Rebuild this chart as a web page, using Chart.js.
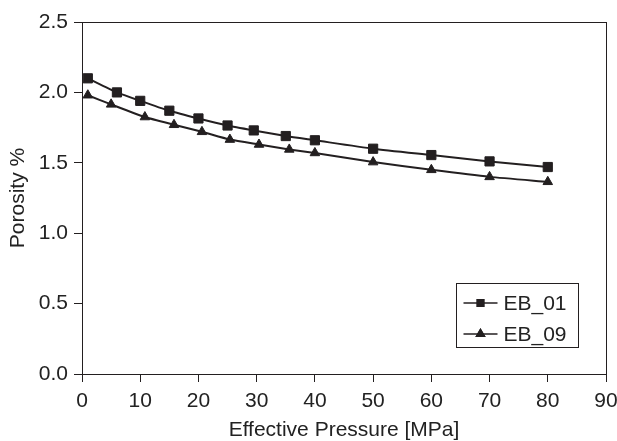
<!DOCTYPE html>
<html>
<head>
<meta charset="utf-8">
<script src="https://cdn.jsdelivr.net/npm/chart.js@4.4.1/dist/chart.umd.min.js"></script>
<style>
  html, body { margin: 0; padding: 0; background: #ffffff; }
  #wrap { width: 617px; height: 441px; }
</style>
</head>
<body>
<div id="wrap"><canvas id="chart" width="617" height="441"></canvas></div>
<script>
// values
const seriesNames = ['EB_01', 'EB_09'];
const pressureEB01 = [1, 6, 10, 15, 20, 25, 29.5, 35, 40, 50, 60, 70, 80];
const porosityEB01 = [2.10, 2.00, 1.94, 1.87, 1.815, 1.765, 1.73, 1.69, 1.66, 1.60, 1.555, 1.51, 1.47];
const pressureEB09 = [1, 5, 10.8, 15.8, 20.6, 25.4, 30.4, 35.6, 40, 50, 60, 70, 80];
const porosityEB09 = [1.98, 1.915, 1.825, 1.77, 1.72, 1.665, 1.63, 1.595, 1.57, 1.505, 1.45, 1.40, 1.365];

const ink = '#231f20';
const textInk = '#222222';
const fontFamily = '"Liberation Sans", Arial, Helvetica, sans-serif';

function toPoints(xs, ys)
{
	return xs.map((x, i) => ({ x: x, y: ys[i] }));
}

// box round the plot area
const frame = {
	id: 'frame',
	afterDatasetsDraw(chart)
	{
		const { ctx, chartArea } = chart;
		ctx.save();
		ctx.strokeStyle = ink;
		ctx.lineWidth = 1;
		ctx.strokeRect(Math.round(chartArea.left) + 0.5, Math.round(chartArea.top) + 0.5,
			Math.round(chartArea.right - chartArea.left), Math.round(chartArea.bottom - chartArea.top));
		ctx.restore();
	}
};

// boxed legend in the lower right, line + marker like the plot
const boxLegend = {
	id: 'boxLegend',
	afterDraw(chart)
	{
		const { ctx, chartArea } = chart;
		const w = 122, h = 64;
		const x0 = Math.round(chartArea.right - 28 - w) + 0.5;
		const y0 = Math.round(chartArea.bottom - 27 - h) + 0.5;
		ctx.save();
		ctx.fillStyle = '#ffffff';
		ctx.fillRect(x0, y0, w, h);
		ctx.strokeStyle = ink;
		ctx.lineWidth = 1;
		ctx.strokeRect(x0, y0, w, h);
		chart.data.datasets.forEach((ds, i) => {
			const cy = y0 + 19.5 + i * 31;
			ctx.strokeStyle = ink;
			ctx.lineWidth = 1.5;
			ctx.beginPath();
			ctx.moveTo(x0 + 7, cy);
			ctx.lineTo(x0 + 41, cy);
			ctx.stroke();
			ctx.fillStyle = ink;
			Chart.helpers.drawPoint(ctx, { pointStyle: ds.pointStyle, radius: 4.5, borderWidth: 1, rotation: 0 }, x0 + 24, cy);
			ctx.fill();
			ctx.stroke();
			ctx.fillStyle = textInk;
			ctx.font = '21px ' + fontFamily;
			ctx.textBaseline = 'middle';
			ctx.textAlign = 'left';
			ctx.fillText(ds.label, x0 + 47, cy + 1);
		});
		ctx.restore();
	}
};

const ctx = document.getElementById('chart').getContext('2d');
Chart.defaults.font.family = fontFamily;
Chart.defaults.color = textInk;

new Chart(ctx, {
	type: 'line',
	data: {
		datasets: [
			{
				label: seriesNames[0],
				data: toPoints(pressureEB01, porosityEB01),
				borderColor: ink,
				backgroundColor: ink,
				borderWidth: 2,
				pointStyle: 'rect',
				pointRadius: 6.5,
				pointBorderWidth: 1,
				tension: 0.2
			},
			{
				label: seriesNames[1],
				data: toPoints(pressureEB09, porosityEB09),
				borderColor: ink,
				backgroundColor: ink,
				borderWidth: 2,
				pointStyle: 'triangle',
				pointRadius: 5.5,
				pointBorderWidth: 1,
				tension: 0.2
			}
		]
	},
	options: {
		responsive: false,
		animation: false,
		layout: { padding: { top: 22, right: 11, bottom: 0, left: 0 } },
		plugins: {
			legend: { display: false },
			tooltip: { enabled: false }
		},
		scales: {
			x: {
				type: 'linear',
				min: 0,
				max: 90,
				ticks: { stepSize: 10, padding: 7, font: { size: 21 }, color: textInk },
				grid: { drawOnChartArea: false, tickLength: 8, color: ink },
				border: { display: true, color: ink, width: 1 },
				title: {
					display: true,
					text: 'Effective Pressure [MPa]',
					font: { size: 21, lineHeight: 1 },
					padding: { top: 0, bottom: 0 },
					color: textInk
				},
				afterFit(scale) {
					scale.height = 67;
					scale.paddingLeft = 0;
					scale.paddingRight = 0;
				}
			},
			y: {
				min: 0,
				max: 2.5,
				ticks: {
					stepSize: 0.5,
					padding: 6,
					font: { size: 21 },
					color: textInk,
					callback: (v) => v.toFixed(1)
				},
				grid: { drawOnChartArea: false, tickLength: 8, color: ink },
				border: { display: true, color: ink, width: 1 },
				title: {
					display: true,
					text: 'Porosity %',
					font: { size: 21, lineHeight: 1 },
					padding: { top: 8, bottom: 0 },
					color: textInk
				},
				afterFit(scale) {
					scale.width = 82;
					scale.paddingTop = 0;
					scale.paddingBottom = 0;
				}
			}
		}
	},
	plugins: [frame, boxLegend]
});
</script>
</body>
</html>
